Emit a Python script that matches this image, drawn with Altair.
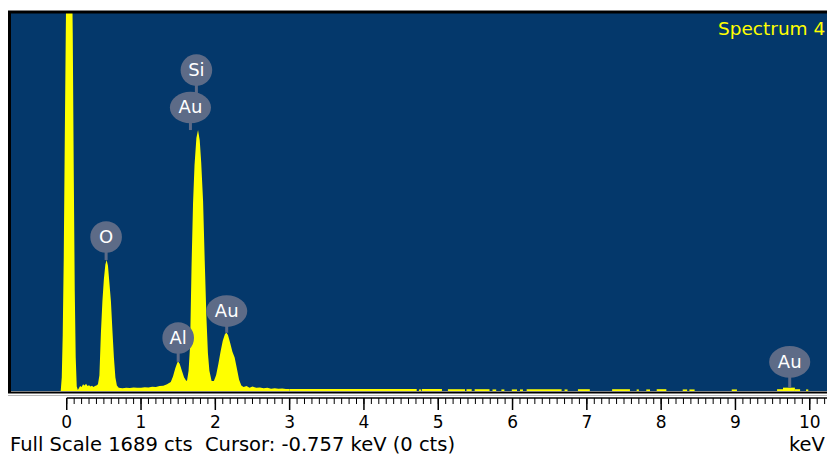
import altair as alt
import pandas as pd

# ---- spectrum (keV, counts) ----
energy = [-0.081, -0.067, -0.054, -0.040, -0.027, -0.013, 0.0, 0.034, 0.067, 0.081, 0.094, 0.108, 0.121, 0.135,
          0.15, 0.18, 0.20, 0.22, 0.24, 0.26, 0.28, 0.30, 0.32, 0.34, 0.36, 0.38,
          0.40, 0.42, 0.44, 0.46, 0.48, 0.50, 0.52, 0.537, 0.555, 0.575, 0.595, 0.615, 0.635, 0.655, 0.675,
          0.70, 0.75, 0.80, 0.85, 0.90, 0.95, 1.00, 1.05, 1.10, 1.15, 1.20, 1.25, 1.30, 1.35,
          1.40, 1.43, 1.46, 1.49, 1.505, 1.52, 1.55, 1.58, 1.61,
          1.62, 1.64, 1.66, 1.68, 1.70, 1.72, 1.745, 1.767, 1.79, 1.81, 1.835, 1.857, 1.88, 1.90, 1.92, 1.95,
          1.98, 2.01, 2.04, 2.07, 2.10, 2.13, 2.15, 2.17, 2.20, 2.23, 2.26, 2.29, 2.32, 2.35,
          2.38, 2.42, 2.46, 2.50, 2.55, 2.60, 2.65, 2.70, 2.75, 2.80, 2.85, 2.90, 2.95, 3.00]
counts = [0, 60, 250, 600, 1100, 1600, 2000, 2300, 2000, 1600, 1000, 450, 150, 20,
          5, 22, 18, 30, 25, 32, 22, 26, 20, 24, 18, 22,
          25, 30, 70, 260, 400, 500, 565, 585, 560, 480, 400, 270, 150, 60, 25,
          15, 12, 14, 13, 16, 14, 15, 17, 16, 19, 18, 22, 24, 30,
          40, 65, 100, 128, 130, 122, 90, 60, 45,
          48, 90, 200, 560, 840, 1010, 1130, 1166, 1120, 1020, 850, 585, 330, 170, 90, 45,
          45, 70, 120, 175, 225, 255, 260, 250, 215, 175, 150, 100, 50, 25,
          18, 22, 15, 20, 14, 16, 12, 14, 10, 12, 10, 11, 9, 9]

# low-count channels beyond 3 keV: (start keV, end keV, counts)
tail_start = [3.00, 4.74, 4.78, 5.13, 5.38, 5.49, 5.73, 5.85, 5.99, 6.10, 6.19, 6.70, 6.88, 7.34, 7.67,
              7.80, 7.94, 8.29, 8.38, 8.95, 9.56, 9.64, 9.80, 9.95]
tail_end = [4.71, 4.77, 5.05, 5.36, 5.45, 5.69, 5.78, 5.89, 6.06, 6.14, 6.66, 6.74, 7.04, 7.58, 7.70,
            7.85, 8.07, 8.35, 8.45, 9.02, 9.64, 9.80, 9.87, 9.98]
tail_counts = [9, 7, 9, 8, 8, 8, 7, 7, 7, 7, 8, 7, 8, 8, 7,
               7, 8, 7, 7, 7, 8, 15, 8, 7]

# ---- peak labels ----
label_text = ["O", "Si", "Au", "Al", "Au", "Au"]
label_energy = [0.53, 1.745, 1.665, 1.50, 2.153, 9.73]
label_counts = [688, 1434, 1267, 237, 357, 130]
stem_end = [585, 1267, 1166, 130, 260, 14]

major_ticks = list(range(0, 11))
minor_ticks = [round(i * 0.1, 1) for i in range(0, 103)]
tick_labels = [str(v) for v in major_ticks]

full_scale = 1689
x_min, x_max = -0.75, 10.232
title_text = "Spectrum 4"
footer_text = "Full Scale 1689 cts \u00a0Cursor: -0.757 keV (0 cts)"
unit_text = "keV"

W, H = 816, 378
YELLOW = "#ffff00"
BLUE = "#04386b"
GRAY = "#5d6b87"
FONT = "DejaVu Sans"

xs = alt.Scale(domain=[x_min, x_max], nice=False, zero=False)
ys = alt.Scale(domain=[0, full_scale], nice=False)

spec = pd.DataFrame({"e": energy, "c": counts})
tail = pd.DataFrame({"s": tail_start, "t": tail_end, "c": tail_counts})
labels = pd.DataFrame({"txt": label_text, "e": label_energy, "c": label_counts, "se": stem_end})
labels["round"] = labels["txt"] != "Au"
majors = pd.DataFrame({"v": major_ticks, "lab": tick_labels})
minors = pd.DataFrame({"v": minor_ticks})
one = pd.DataFrame({"a": [0]})

X = lambda f: alt.X(f, scale=xs, axis=None)
Y = lambda f: alt.Y(f, scale=ys, axis=None)

area = alt.Chart(spec).mark_area(color=YELLOW, clip=True, interpolate="linear").encode(x=X("e:Q"), y=Y("c:Q"))
tail_l = alt.Chart(tail).mark_rect(color=YELLOW).encode(x=X("s:Q"), x2="t:Q", y=Y("c:Q"), y2=alt.datum(0))
stems = alt.Chart(labels).mark_rule(color=GRAY, strokeWidth=3).encode(x=X("e:Q"), y=Y("c:Q"), y2="se:Q")
circles = alt.Chart(labels).transform_filter("datum.round").mark_point(
    shape="circle", filled=True, size=1000, color=GRAY, opacity=1
).encode(x=X("e:Q"), y=Y("c:Q"))
ellipses = alt.Chart(labels).transform_filter("!datum.round").mark_point(
    shape="M-1.3,0A1.3,1,0,1,1,1.3,0A1.3,1,0,1,1,-1.3,0Z", filled=True, size=1000, color=GRAY, opacity=1
).encode(x=X("e:Q"), y=Y("c:Q"))
ltext = alt.Chart(labels).mark_text(color="white", fontSize=18, font=FONT, baseline="middle", dy=1).encode(
    x=X("e:Q"), y=Y("c:Q"), text="txt:N")
title = alt.Chart(one).mark_text(color=YELLOW, fontSize=18.5, font=FONT, align="left", baseline="alphabetic").encode(
    x=alt.value(707), y=alt.value(22), text=alt.value(title_text))

# frame
frame_top = alt.Chart(one).mark_rule(color="black", strokeWidth=3).encode(
    x=alt.value(-3), x2=alt.value(W), y=alt.value(-1))
frame_left = alt.Chart(one).mark_rule(color="black", strokeWidth=3).encode(
    x=alt.value(-1.5), y=alt.value(-2), y2=alt.value(H + 2))
frame_bottom = alt.Chart(one).mark_rule(color="black", strokeWidth=2).encode(
    x=alt.value(-3), x2=alt.value(W), y=alt.value(H + 1.5))
frame_gray = alt.Chart(one).mark_rule(color="#b8b8b8", strokeWidth=1).encode(
    x=alt.value(-3), x2=alt.value(W), y=alt.value(H + 4.5))

# ruler
ruler = alt.Chart(majors).transform_filter("datum.v == 0").mark_rule(color="black", strokeWidth=1.5).encode(
    x=X("v:Q"), x2=alt.datum(x_max), y=alt.value(H + 7))
minor_l = alt.Chart(minors).mark_rule(color="black", strokeWidth=1).encode(
    x=X("v:Q"), y=alt.value(H + 7), y2=alt.value(H + 13))
major_l = alt.Chart(majors).mark_rule(color="black", strokeWidth=1.5).encode(
    x=X("v:Q"), y=alt.value(H + 7), y2=alt.value(H + 19))
major_txt = alt.Chart(majors).mark_text(color="black", fontSize=17, font=FONT, baseline="alphabetic").encode(
    x=X("v:Q"), y=alt.value(H + 37), text="lab:N")
footer = alt.Chart(one).mark_text(color="black", fontSize=19.5, font=FONT, align="left", baseline="alphabetic").encode(
    x=alt.value(-1), y=alt.value(H + 60.3), text=alt.value(footer_text))
unit = alt.Chart(one).mark_text(color="black", fontSize=19.5, font=FONT, align="left", baseline="alphabetic").encode(
    x=alt.value(778), y=alt.value(H + 60.3), text=alt.value(unit_text))

chart = alt.layer(
    area, tail_l, stems, circles, ellipses, ltext, title,
    frame_top, frame_left, frame_bottom, frame_gray,
    ruler, minor_l, major_l, major_txt, footer, unit,
).properties(
    width=W, height=H, autosize="none",
    padding={"left": 3, "top": 5, "right": 0, "bottom": 65},
    background="white",
).configure_view(fill=BLUE, stroke=None)

chart.save("out.html", embed_options={"renderer": "svg", "actions": False})
